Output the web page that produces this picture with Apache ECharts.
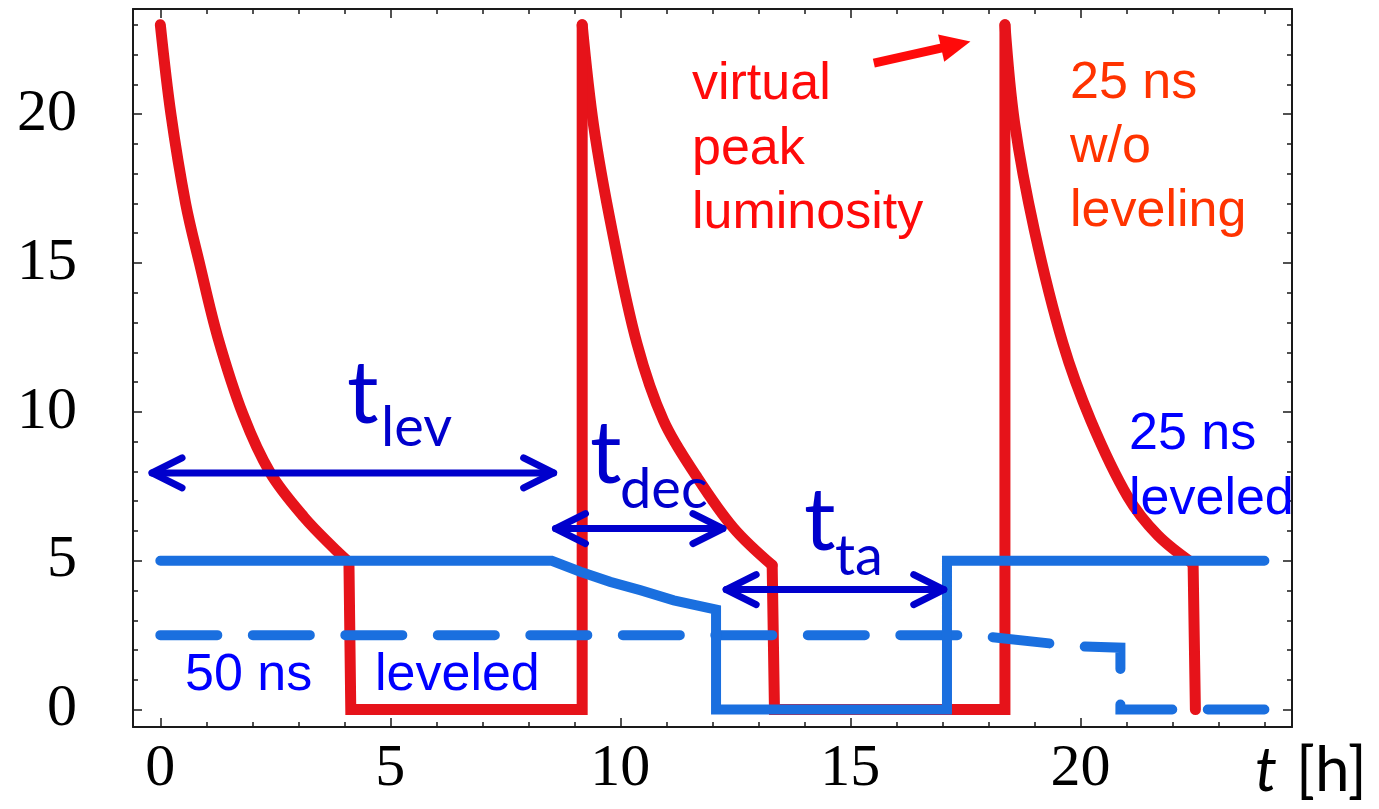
<!DOCTYPE html>
<html>
<head>
<meta charset="utf-8">
<script src="https://cdn.jsdelivr.net/npm/echarts@6/dist/echarts.min.js"></script>
<style>
  html, body { margin: 0; padding: 0; background: #ffffff; }
  #chart { width: 1379px; height: 809px; }
</style>
</head>
<body>
<div id="chart"></div>
<script>
// Luminosity vs. time, [t (h), L]
// 25 ns without leveling (virtual peak luminosity): three fills, each decaying
const lumi25Decay1 = [
  [0, 23.0], [0.23, 20.0], [0.55, 17.0], [0.85, 15.0], [1.25, 12.5],
  [1.8, 9.9], [2.39, 7.95], [3.12, 6.47], [3.84, 5.32], [4.1, 4.95]
];
const lumi25Decay2 = [
  [9.17, 23.0], [9.42, 19.6], [9.82, 16.1], [10.36, 12.3], [10.94, 9.7],
  [11.67, 7.8], [12.46, 6.1], [13.3, 4.85]
];
const lumi25Decay3 = [
  [18.36, 23.0], [18.57, 19.7], [19.0, 16.1], [19.62, 12.3], [20.23, 9.7],
  [21.03, 7.15], [21.68, 5.86], [22.45, 4.9]
];
// beam dump, turnaround and refill between the fills
const lumi25Turnaround1 = [[4.1, 4.95], [4.14, 0], [9.17, 0], [9.17, 23.0]];
const lumi25Turnaround2 = [[13.3, 4.85], [13.35, 0], [18.36, 0], [18.36, 23.0]];
const lumi25Dump3 = [[22.45, 4.9], [22.5, 0]];
// 25 ns leveled
const lumi25Leveled = [
  [0, 5.0], [8.51, 5.0], [9.13, 4.63], [9.78, 4.29], [10.43, 4.01], [11.16, 3.67],
  [12.08, 3.36], [12.08, 0], [17.1, 0], [17.1, 5.0], [24, 5.0]
];
// 50 ns leveled
const lumi50Leveled = [
  [0, 2.5], [17.7, 2.5], [18.04, 2.44], [19.46, 2.2], [20.03, 2.12], [20.87, 2.08],
  [20.87, 0], [24, 0]
];
// Time spans [t start, t end, L level] for t_lev, t_dec, t_ta
const spanLev = [-0.18, 8.55, 7.95];
const spanDec = [8.59, 12.23, 6.08];
const spanTa = [12.3, 17.03, 4.03];
// Pointer to the virtual peak: [t tail, L tail, t tip, L tip]
const peakPointer = [15.51, 21.71, 17.61, 22.44];

const xTickLabels = [0, 5, 10, 15, 20];
const xMinorTicks = [0, 1, 2, 3, 4, 5, 6, 7, 8, 9, 10, 11, 12, 13, 14, 15, 16, 17, 18, 19, 20, 21, 22, 23, 24];
const yTickLabels = [0, 5, 10, 15, 20];
const yMinorTicks = [0, 1, 2, 3, 4, 5, 6, 7, 8, 9, 10, 11, 12, 13, 14, 15, 16, 17, 18, 19, 20, 21, 22, 23];

const X_MIN = -0.594, X_MAX = 24.6;
const Y_MIN = -0.585, Y_MAX = 23.53;

const RED = '#e6131a';
const BLUE_LINE = '#1a6fdf';
const ARROW_BLUE = '#0000cc';
const TEXT_BLUE = '#0000ff';

const frameLine = { color: '#1a1a1a', width: 2 };

function frameAxis(position, min, max, ticks, tickLen, labels, showLine, labelMargin) {
  return {
    type: 'value', position: position, min: min, max: max, offset: 0,
    splitLine: { show: false },
    axisLine: { show: showLine, onZero: false, lineStyle: frameLine },
    axisTick: { show: true, inside: true, length: tickLen, customValues: ticks,
                lineStyle: { color: '#1a1a1a', width: 1.5 } },
    minorTick: { show: false },
    axisLabel: labels ? {
      show: true, customValues: labels, margin: labelMargin,
      fontFamily: 'Liberation Serif', fontSize: 60, color: '#000000'
    } : { show: false }
  };
}

// Double-headed span arrow drawn in data coordinates
function spanArrow(params, api) {
  const a = api.coord([api.value(0), api.value(2)]);
  const b = api.coord([api.value(1), api.value(2)]);
  const hl = 30, hw = 15;
  const style = { stroke: ARROW_BLUE, lineWidth: 7, lineCap: 'round', lineJoin: 'round', fill: null };
  return {
    type: 'group',
    children: [
      { type: 'line', shape: { x1: a[0], y1: a[1], x2: b[0], y2: b[1] }, style: style },
      { type: 'polyline', shape: { points: [[a[0] + hl, a[1] - hw], a, [a[0] + hl, a[1] + hw]] }, style: style },
      { type: 'polyline', shape: { points: [[b[0] - hl, b[1] - hw], b, [b[0] - hl, b[1] + hw]] }, style: style }
    ]
  };
}

// Single arrow with a filled head
function pointerArrow(params, api) {
  const p = api.coord([api.value(0), api.value(1)]);
  const q = api.coord([api.value(2), api.value(3)]);
  const dx = q[0] - p[0], dy = q[1] - p[1];
  const len = Math.sqrt(dx * dx + dy * dy);
  const ux = dx / len, uy = dy / len;
  const nx = -uy, ny = ux;
  const headLen = 30, headHalf = 14;
  const bx = q[0] - ux * headLen, by = q[1] - uy * headLen;
  return {
    type: 'group',
    children: [
      { type: 'line', shape: { x1: p[0], y1: p[1], x2: bx + ux * 2, y2: by + uy * 2 },
        style: { stroke: '#ff0a0a', lineWidth: 9, lineCap: 'butt' } },
      { type: 'polygon', shape: { points: [q, [bx + nx * headHalf, by + ny * headHalf], [bx - nx * headHalf, by - ny * headHalf]] },
        style: { fill: '#ff0a0a' } }
    ]
  };
}

function label(text, x, y, size, color, family, lineHeight, extra) {
  return {
    type: 'text', x: x, y: y, z: 100,
    style: Object.assign({
      text: text, fontSize: size, fontFamily: family, fill: color,
      lineHeight: lineHeight, align: 'left', verticalAlign: 'top'
    }, extra || {})
  };
}

function redLine(name, data, smooth) {
  return {
    name: name, type: 'line', data: data,
    showSymbol: false, symbol: 'none', smooth: smooth, z: 2,
    lineStyle: { color: RED, width: 11, cap: 'round', join: 'miter' }
  };
}

const SANS = 'Liberation Sans';
const CAL = 'Lato';

const option = {
  backgroundColor: '#ffffff',
  animation: false,
  grid: { left: 133, top: 9, width: 1159, height: 718, containLabel: false, outerBoundsMode: 'none' },
  xAxis: [
    frameAxis('bottom', X_MIN, X_MAX, xMinorTicks, 5, xTickLabels, true, 12),
    frameAxis('top', X_MIN, X_MAX, xMinorTicks, 5, null, true),
    frameAxis('bottom', X_MIN, X_MAX, xTickLabels, 9, null, false),
    frameAxis('top', X_MIN, X_MAX, xTickLabels, 9, null, false)
  ],
  yAxis: [
    frameAxis('left', Y_MIN, Y_MAX, yMinorTicks, 5, yTickLabels, true, 56),
    frameAxis('right', Y_MIN, Y_MAX, yMinorTicks, 5, null, true),
    frameAxis('left', Y_MIN, Y_MAX, yTickLabels, 9, null, false),
    frameAxis('right', Y_MIN, Y_MAX, yTickLabels, 9, null, false)
  ],
  series: [
    redLine('25 ns w/o leveling, fill 1', lumi25Decay1, 0.35),
    redLine('25 ns w/o leveling, fill 2', lumi25Decay2, 0.35),
    redLine('25 ns w/o leveling, fill 3', lumi25Decay3, 0.35),
    redLine('turnaround 1', lumi25Turnaround1, false),
    redLine('turnaround 2', lumi25Turnaround2, false),
    redLine('dump 3', lumi25Dump3, false),
    {
      name: '50 ns leveled', type: 'line', data: lumi50Leveled,
      showSymbol: false, symbol: 'none', smooth: false, z: 3,
      lineStyle: { color: BLUE_LINE, width: 10, type: [57, 35.5], cap: 'round', join: 'miter' }
    },
    {
      name: '25 ns leveled', type: 'line', data: lumi25Leveled,
      showSymbol: false, symbol: 'none', smooth: false, z: 4,
      lineStyle: { color: BLUE_LINE, width: 10, cap: 'round', join: 'miter' }
    },
    {
      name: 'spans', type: 'custom', data: [spanLev, spanDec, spanTa],
      renderItem: spanArrow, z: 5, clip: false
    },
    {
      name: 'pointer', type: 'custom', data: [peakPointer],
      renderItem: pointerArrow, z: 5, clip: false
    }
  ],
  graphic: [
    label('virtual\npeak\nluminosity', 692, 52.7, 52, '#ff0a0a', SANS, 64.5),
    label('25 ns\nw/o\nleveling', 1070, 51.4, 52, '#ff3300', SANS, 64),
    label('25 ns\nleveled', 1129, 402.5, 52, TEXT_BLUE, SANS, 65),
    label('50 ns', 185, 643.7, 52, TEXT_BLUE, SANS, 64.5),
    label('leveled', 375, 643.7, 52, TEXT_BLUE, SANS, 64.5),
    label('t', 347, 351, 88, ARROW_BLUE, CAL, 88),
    label('lev', 381, 400.4, 56, ARROW_BLUE, CAL, 56),
    label('t', 590, 411, 88, ARROW_BLUE, CAL, 88),
    label('dec', 620, 462.1, 56, ARROW_BLUE, CAL, 56),
    label('t', 804, 478, 88, ARROW_BLUE, CAL, 88),
    label('ta', 835, 529.1, 56, ARROW_BLUE, CAL, 56),
    label('t', 1255, 740, 62, '#000000', CAL, 62, { fontStyle: 'italic' }),
    label('[h]', 1296, 740, 62, '#000000', CAL, 62)
  ]
};

const chart = echarts.init(document.getElementById('chart'), null, { renderer: 'canvas' });
chart.setOption(option);
</script>
</body>
</html>
